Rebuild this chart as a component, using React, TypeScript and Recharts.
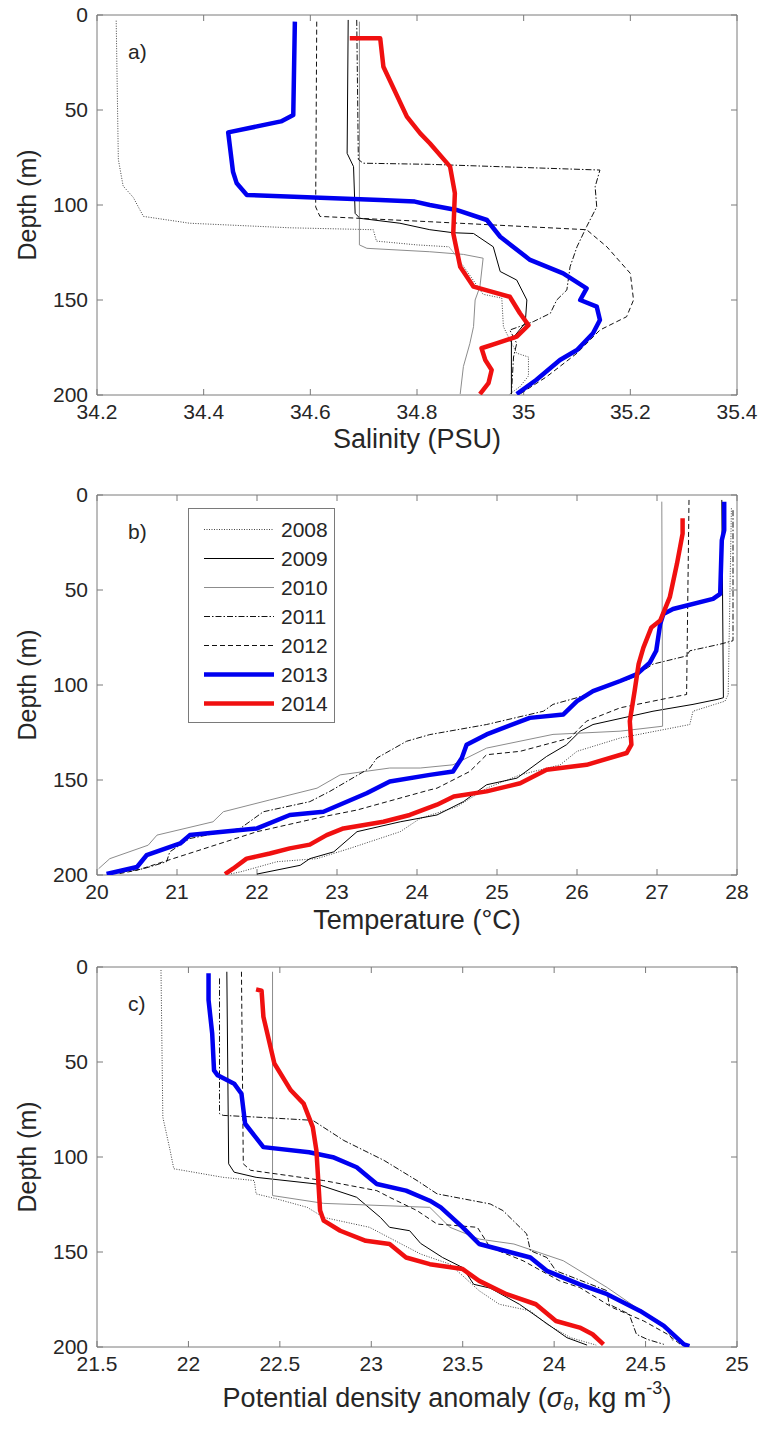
import type { ReactNode } from 'react'
import { ScatterChart, Scatter, XAxis, YAxis, Legend, ReferenceArea, ReferenceLine } from 'recharts'

// each point is [value, depth (m)]
type Pt = [number, number]

const years = ['2008', '2009', '2010', '2011', '2012', '2013', '2014']
const depthTicks = [0, 50, 100, 150, 200]
const salinityTicks = [34.2, 34.4, 34.6, 34.8, 35, 35.2, 35.4]
const temperatureTicks = [20, 21, 22, 23, 24, 25, 26, 27, 28]
const densityTicks = [21.5, 22, 22.5, 23, 23.5, 24, 24.5, 25]

// a) salinity (PSU)
const sal2008: Pt[] = [[34.236, 3], [34.24, 76], [34.249, 90], [34.268, 96], [34.287, 106], [34.374, 109.6], [34.562, 112], [34.718, 113], [34.724, 119], [34.8, 121], [34.86, 122], [34.874, 127], [34.924, 147], [34.959, 149], [34.962, 164], [34.968, 167.5], [34.987, 178], [35.009, 180], [35.009, 190], [34.993, 195.6], [34.974, 199.5]]
const sal2009: Pt[] = [[34.671, 2.6], [34.669, 72.8], [34.681, 79.8], [34.684, 104.4], [34.693, 107], [34.768, 109.6], [34.824, 113], [34.868, 114.6], [34.906, 115], [34.943, 122], [34.956, 135], [34.987, 139.5], [35.006, 150], [35.003, 162], [34.977, 171], [34.977, 199.5]]
const sal2010: Pt[] = [[34.692, 3.5], [34.692, 121], [34.706, 122.8], [34.824, 124.6], [34.887, 126], [34.924, 128], [34.918, 143], [34.909, 150], [34.906, 164], [34.899, 173], [34.887, 185], [34.881, 199.5]]
const sal2011: Pt[] = [[34.687, 2.6], [34.69, 76], [34.699, 78], [34.824, 78.6], [35.143, 81.6], [35.134, 90.4], [35.137, 101], [35.118, 111.4], [35.1, 122], [35.087, 132.5], [35.081, 144.7], [35.062, 150], [35.05, 157], [35.018, 161.4], [34.974, 165.8], [34.987, 172.8], [34.981, 180], [34.977, 199.5]]
const sal2012: Pt[] = [[34.612, 3.5], [34.61, 101], [34.618, 106], [34.824, 108.8], [35.118, 113], [35.156, 122], [35.2, 136], [35.206, 150], [35.193, 158.8], [35.143, 165.8], [35.1, 178], [35.043, 190.4], [34.993, 199.5]]
const sal2013: Pt[] = [[34.571, 3.5], [34.568, 52.6], [34.545, 56], [34.446, 61.8], [34.455, 82.5], [34.462, 88.6], [34.481, 94.7], [34.731, 97.4], [34.796, 98.2], [34.824, 100], [34.874, 102.6], [34.931, 107.9], [34.956, 116.7], [35.012, 128.9], [35.074, 136], [35.118, 143.9], [35.106, 150], [35.137, 153.5], [35.143, 160.5], [35.13, 167.5], [35.1, 176.3], [35.068, 181.6], [35.024, 192], [34.987, 199.5]]
const sal2014: Pt[] = [[34.674, 12.3], [34.731, 12.3], [34.737, 27.2], [34.781, 53.5], [34.806, 62.3], [34.824, 67.5], [34.862, 79.8], [34.871, 93.8], [34.868, 114.9], [34.881, 132.5], [34.906, 143], [34.974, 148.3], [34.993, 157], [35.009, 163.2], [34.987, 169.3], [34.949, 172.8], [34.921, 175.4], [34.928, 181.6], [34.94, 186.8], [34.934, 193.8], [34.918, 199.5]]

// b) temperature (°C)
const tem2008: Pt[] = [[27.93, 7], [27.89, 105], [27.85, 108.5], [27.45, 113.8], [27.41, 120.8], [26.54, 127.9], [26.0, 134.9], [25.79, 142], [25.29, 147.3], [24.87, 154.3], [24.5, 164], [24.04, 170.2], [23.79, 177.2], [23.16, 186], [22.75, 191.4], [22.25, 193], [21.79, 198.4], [21.66, 199.5]]
const tem2009: Pt[] = [[27.81, 2.6], [27.83, 106.7], [27.75, 107.6], [27.45, 110.2], [26.95, 113.8], [26.2, 120.8], [26.04, 124.3], [25.87, 131.4], [25.62, 137.6], [25.25, 149], [24.87, 152.5], [24.58, 161.4], [24.25, 168.4], [23.79, 172], [23.25, 177.2], [22.96, 187.8], [22.66, 191.4], [22.54, 194.9], [22.0, 199.5]]
const tem2010: Pt[] = [[27.06, 3.5], [27.07, 121.7], [26.54, 124.3], [25.7, 126], [24.87, 133.2], [24.45, 142], [24.04, 143.7], [23.66, 143.7], [23.04, 147.3], [22.75, 154.3], [22.16, 160.5], [21.58, 166.7], [21.45, 172], [20.75, 179], [20.64, 184.3], [20.16, 191.4], [20.02, 196.7]]
const tem2011: Pt[] = [[27.95, 8], [27.95, 76.7], [27.79, 78.5], [27.41, 82], [27.37, 84.7], [26.95, 89], [26.7, 96.1], [26.0, 106.7], [25.7, 110.2], [25.58, 113.8], [24.87, 120.8], [24.16, 126.1], [23.87, 129.6], [23.5, 138.4], [23.41, 143.7], [22.91, 156], [22.66, 161.4], [22.08, 166.7], [21.79, 175.5], [21.16, 180.8], [20.91, 187.8], [20.87, 193], [20.58, 196.7], [20.16, 199.5]]
const tem2012: Pt[] = [[27.4, 2.6], [27.37, 105], [27.16, 106.7], [26.54, 112], [26.12, 119], [25.91, 127.9], [25.29, 134.9], [24.87, 136.7], [24.66, 145.5], [24.25, 154.3], [24.16, 155.2], [23.25, 165.8], [22.83, 169.3], [22.0, 177.2], [20.95, 191.4], [20.5, 197.5], [20.25, 199.5]]
const tem2013: Pt[] = [[27.84, 3.5], [27.84, 18.5], [27.81, 23.8], [27.79, 52], [27.7, 54.7], [27.2, 60], [27.08, 62.6], [27.04, 67.9], [26.99, 82], [26.91, 88.2], [26.75, 94.3], [26.54, 97.9], [26.2, 103.2], [26.0, 108.5], [25.83, 115.5], [25.41, 117.3], [24.87, 126], [24.62, 131.4], [24.56, 138.4], [24.45, 145.5], [24.16, 147.3], [23.66, 150.8], [23.37, 157], [22.83, 166.7], [22.41, 168.4], [22.0, 175.5], [21.16, 179], [21.04, 183.4], [20.62, 189.6], [20.5, 195.8], [20.12, 199.5]]
const tem2014: Pt[] = [[27.32, 12.3], [27.32, 20.3], [27.25, 36.1], [27.16, 53.8], [27.04, 66.1], [26.93, 69.7], [26.83, 80.3], [26.77, 89], [26.72, 103.2], [26.66, 119], [26.68, 131.4], [26.62, 135.8], [26.12, 142], [25.62, 144.6], [25.29, 151.7], [24.87, 156], [24.46, 158.7], [24.25, 163], [23.91, 168.4], [23.58, 172], [23.08, 175.5], [22.87, 179], [22.66, 184], [22.41, 186], [22.16, 188.7], [21.87, 191.4], [21.7, 196.7], [21.6, 199.5]]

// c) potential density anomaly (kg m-3)
const den2008: Pt[] = [[21.85, 1.6], [21.86, 79], [21.9, 96.6], [21.92, 106.2], [22.19, 110.7], [22.36, 112.4], [22.37, 119.4], [22.48, 122], [22.65, 126.5], [22.74, 131.8], [22.99, 137], [23.27, 151.1], [23.43, 156.4], [23.59, 170.4], [23.7, 177.5], [23.87, 181], [23.96, 188], [24.09, 195.1], [24.23, 199]]
const den2009: Pt[] = [[22.21, 2.5], [22.22, 103.6], [22.25, 108], [22.37, 110.7], [22.7, 114.2], [22.92, 121.2], [23.05, 131.8], [23.1, 137], [23.21, 138.8], [23.27, 145.5], [23.39, 152.9], [23.5, 158.2], [23.56, 167], [23.65, 169], [23.81, 177.5], [23.94, 186.3], [24.07, 195.1], [24.18, 199]]
const den2010: Pt[] = [[22.46, 2.5], [22.46, 120.3], [22.74, 124.4], [23.32, 126.5], [23.43, 137], [23.59, 143.2], [23.78, 145.8], [24.05, 154.6], [24.29, 168.7], [24.45, 179.3], [24.6, 188], [24.65, 196.8]]
const den2011: Pt[] = [[22.17, 6], [22.17, 77.2], [22.19, 78.1], [22.37, 79], [22.68, 80.7], [22.85, 91.3], [23.07, 101.8], [23.25, 112.4], [23.36, 119.4], [23.65, 124.7], [23.72, 128.2], [23.85, 140.5], [23.87, 149.3], [23.96, 152.9], [24.01, 159.9], [24.29, 170.4], [24.3, 177.5], [24.41, 182.7], [24.45, 193.3], [24.51, 196], [24.6, 198.6]]
const den2012: Pt[] = [[22.29, 2.5], [22.3, 103.6], [22.34, 107], [22.74, 112.4], [23.03, 117.7], [23.1, 121.2], [23.25, 128.2], [23.36, 135.3], [23.58, 137], [23.65, 147.6], [23.83, 154.6], [24.03, 165.2], [24.14, 168.7], [24.32, 179.3], [24.49, 186.3], [24.62, 193.3], [24.69, 198.6]]
const den2013: Pt[] = [[22.11, 3.3], [22.11, 17.4], [22.13, 35], [22.14, 54.4], [22.16, 57], [22.25, 61.4], [22.29, 66.7], [22.31, 82.5], [22.41, 94.8], [22.66, 97.5], [22.79, 100.1], [22.92, 105.4], [23.03, 114.2], [23.19, 117.7], [23.32, 123], [23.38, 126.5], [23.5, 137], [23.59, 145.8], [23.87, 152.9], [23.96, 159.9], [24.14, 167], [24.29, 172.2], [24.47, 181], [24.6, 188.9], [24.71, 198.6], [24.74, 199.5]]
const den2014: Pt[] = [[22.37, 11.8], [22.4, 12.5], [22.41, 26.2], [22.47, 50.8], [22.56, 64.9], [22.63, 71.9], [22.68, 84.3], [22.7, 96.6], [22.72, 128.2], [22.74, 133.5], [22.83, 138.8], [22.97, 144.1], [23.1, 145.8], [23.19, 152.9], [23.32, 156.4], [23.5, 159], [23.59, 165.2], [23.74, 172.2], [23.9, 177.5], [24.01, 186.3], [24.14, 189.8], [24.21, 193.3], [24.27, 198.6]]

const lineStyles = [
  { stroke: '#444', strokeWidth: 1, strokeDasharray: '1 1.5' },
  { stroke: '#000', strokeWidth: 1 },
  { stroke: '#8c8c8c', strokeWidth: 1 },
  { stroke: '#111', strokeWidth: 1, strokeDasharray: '6 2 1.5 2' },
  { stroke: '#111', strokeWidth: 1, strokeDasharray: '5 3' },
  { stroke: '#0000f0', strokeWidth: 4.5 },
  { stroke: '#f01010', strokeWidth: 4.5 },
]

const W = 762
const H = 480
const PLOT_TOP = 15
const PLOT_W = 640
const PLOT_H = 380
const TICK_LEN = 6
const FONT = '"Liberation Sans", Arial, Helvetica, sans-serif'
const AXIS = '#7a7a7a'
const INK = '#262626'
const DEPTH_MAX = 200
const TITLE_SIZE = 27

const toRows = (pts: Pt[]) => pts.map(([v, d]) => ({ v, d }))
const fmt = (v: number) => String(Number(v.toFixed(1)))
const noDot = () => <g />

function YearLegend() {
  return (
    <div style={{ border: `1px solid ${AXIS}`, background: '#fff', padding: '6px 0 4px', fontFamily: FONT, fontSize: 21, color: INK }}>
      {years.map((y, i) => (
        <div key={y} style={{ display: 'flex', alignItems: 'center', height: 29 }}>
          <svg width={92} height={29} style={{ display: 'block' }}>
            <line x1={15} x2={85} y1={14.5} y2={14.5} {...lineStyles[i]} />
          </svg>
          <span>{y}</span>
        </div>
      ))}
    </div>
  )
}

function Profile({ series, ticks, title, titleDy, titleDx = 0, letter, top, legend }: {
  series: Pt[][]
  ticks: number[]
  title: ReactNode
  titleDy: number
  titleDx?: number
  letter: string
  top: number
  legend?: boolean
}) {
  const x0 = ticks[0]
  const x1 = ticks[ticks.length - 1]
  const tickStyle = { fontSize: 21, fill: INK, fontFamily: FONT }
  // inward tick length, expressed in data units of each axis
  const dTick = (DEPTH_MAX * TICK_LEN) / PLOT_H
  const vTick = ((x1 - x0) * TICK_LEN) / PLOT_W

  const xTitle = ({ viewBox }: any) => (
    <text x={viewBox.x + viewBox.width / 2 + titleDx} y={viewBox.y + titleDy} textAnchor="middle" dominantBaseline="central" fontSize={TITLE_SIZE} fill={INK} fontFamily={FONT}>
      {title}
    </text>
  )
  const yTitle = ({ viewBox }: any) => {
    const cx = viewBox.x + 27
    const cy = viewBox.y + viewBox.height / 2
    return (
      <text x={cx} y={cy} transform={`rotate(-90 ${cx} ${cy})`} textAnchor="middle" dominantBaseline="central" fontSize={25} fill={INK} fontFamily={FONT}>
        Depth (m)
      </text>
    )
  }

  return (
    <div style={{ position: 'absolute', left: 0, top, width: W, height: H }}>
      <ScatterChart width={W} height={H} margin={{ top: PLOT_TOP, right: 25, bottom: 25, left: 0 }}>
        <XAxis type="number" dataKey="v" domain={[x0, x1]} ticks={ticks} allowDataOverflow
          tickFormatter={fmt} tick={tickStyle} axisLine={false} tickLine={false} tickSize={0} tickMargin={9} height={60} label={xTitle} />
        <YAxis type="number" dataKey="d" domain={[0, DEPTH_MAX]} ticks={depthTicks} reversed allowDataOverflow
          tick={tickStyle} axisLine={false} tickLine={false} tickSize={0} tickMargin={9} width={97} label={yTitle} />
        {series.map((pts, i) => (
          <Scatter
            key={years[i]}
            name={years[i]}
            data={toRows(pts)}
            fill={lineStyles[i].stroke}
            line={{ ...lineStyles[i], strokeLinejoin: 'round' }}
            lineType="joint"
            shape={noDot}
            isAnimationActive={false}
          />
        ))}
        {/* axes box with inward ticks on all four sides */}
        <ReferenceArea x1={x0} x2={x1} y1={0} y2={DEPTH_MAX} fill="none" fillOpacity={0} stroke={AXIS} strokeWidth={1} ifOverflow="visible" />
        {ticks.map((t) => (
          <ReferenceLine key={`b${t}`} segment={[{ x: t, y: DEPTH_MAX }, { x: t, y: DEPTH_MAX - dTick }]} stroke={AXIS} ifOverflow="visible" />
        ))}
        {ticks.map((t) => (
          <ReferenceLine key={`t${t}`} segment={[{ x: t, y: 0 }, { x: t, y: dTick }]} stroke={AXIS} ifOverflow="visible" />
        ))}
        {depthTicks.map((d) => (
          <ReferenceLine key={`l${d}`} segment={[{ x: x0, y: d }, { x: x0 + vTick, y: d }]} stroke={AXIS} ifOverflow="visible" />
        ))}
        {depthTicks.map((d) => (
          <ReferenceLine key={`r${d}`} segment={[{ x: x1, y: d }, { x: x1 - vTick, y: d }]} stroke={AXIS} ifOverflow="visible" />
        ))}
        {legend && (
          <Legend layout="vertical" align="center" verticalAlign="middle"
            wrapperStyle={{ left: 188, top: 28, width: 147 }} content={() => <YearLegend />} />
        )}
      </ScatterChart>
      <div style={{ position: 'absolute', left: 128, top: PLOT_TOP + 27, fontFamily: FONT, fontSize: 21, lineHeight: '20px', color: INK }}>
        {letter}
      </div>
    </div>
  )
}

const densityTitle = (
  <>
    Potential density anomaly (<tspan fontStyle="italic">σ</tspan>
    <tspan fontStyle="italic" fontSize={18} dy={6}>θ</tspan>
    <tspan dy={-6}>, kg m</tspan>
    <tspan fontSize={18} dy={-10}>-3</tspan>
    <tspan dy={10}>)</tspan>
  </>
)

export default function App() {
  return (
    <div style={{ position: 'relative', width: W, height: 1432, background: '#fff' }}>
      <style>{'body{margin:0}'}</style>
      <Profile
        series={[sal2008, sal2009, sal2010, sal2011, sal2012, sal2013, sal2014]}
        ticks={salinityTicks}
        title="Salinity (PSU)"
        titleDy={44}
        letter="a)"
        top={0}
      />
      <Profile
        series={[tem2008, tem2009, tem2010, tem2011, tem2012, tem2013, tem2014]}
        ticks={temperatureTicks}
        title="Temperature (°C)"
        titleDy={45}
        letter="b)"
        top={480}
        legend
      />
      <Profile
        series={[den2008, den2009, den2010, den2011, den2012, den2013, den2014]}
        ticks={densityTicks}
        title={densityTitle}
        titleDy={51}
        titleDx={30}
        letter="c)"
        top={952}
      />
    </div>
  )
}
